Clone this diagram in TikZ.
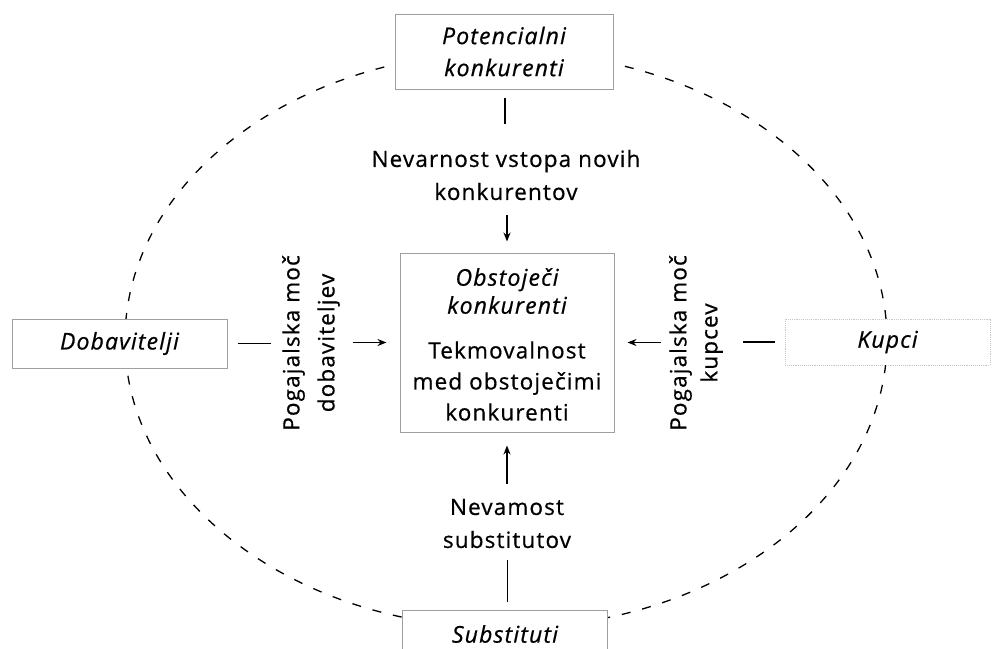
\documentclass[tikz,border=0pt]{standalone}
\usepackage{fontspec}
\setmainfont{Open Sans}[LetterSpace=5, FakeBold=0.6]
\usetikzlibrary{arrows.meta,calc}
\begin{document}
\begin{tikzpicture}[x=1pt,y=-1pt,
  txt/.style={inner sep=0pt, align=center, font=\fontsize{22.5}{33}\selectfont},
  itxt/.style={inner sep=0pt, align=center, font=\fontsize{23}{32}\selectfont\itshape},
  box/.style={draw=gray!75, line width=1pt, fill=white, inner sep=0pt},
  faintbox/.style={draw=gray!45, line width=0.9pt, densely dotted, fill=white, inner sep=0pt},
  conn/.style={line width=1.8pt},
  arr/.style={line width=1.8pt, -{Stealth[length=9pt,width=7pt]}},
  ring/.style={line width=1.3pt, dash pattern=on 9pt off 12pt}
]
\useasboundingbox (0,0) rectangle (996,648);
\fill[white] (0,0) rectangle (996,648);
% surrounding dashed ellipse
\draw[ring] (506,340) ellipse [x radius=381pt, y radius=288pt];
% boxes
\node[box, minimum width=218pt, minimum height=75pt] (pk) at (504,51.5) {};
\node[itxt] (pkt) at (pk) {Potencialni\\konkurenti};
\node[box, minimum width=214pt, minimum height=179pt] (ob) at (507,342.5) {};
\node[itxt, font=\fontsize{23}{28}\selectfont\itshape] (obt) at (507,291) {Obstoječi\\konkurenti};
\node[txt, font=\fontsize{22.5}{31}\selectfont] (tek) at (507,381) {Tekmovalnost\\med obstoječimi\\konkurenti};
\node[box, minimum width=215pt, minimum height=49pt] (dob) at (119.5,343.5) {};
\node[itxt] (dobt) at (dob) {Dobavitelji};
\node[faintbox, minimum width=205pt, minimum height=46pt] (kup) at (887.5,342) {};
\node[itxt] (kupt) at (kup) {Kupci};
\node[box, minimum width=205pt, minimum height=80pt] (sub) at (504.5,650) {};
\node[itxt] (subt) at (505,634) {Substituti};
% force labels
\node[txt] (nv) at (506,175) {Nevarnost vstopa novih\\konkurentov};
\node[txt] (ns) at (507,523.5) {Nevamost\\substitutov};
\node[txt, rotate=90, font=\fontsize{22.5}{35}\selectfont] (pd) at (311,343) {Pogajalska moč\\dobaviteljev};
\node[txt, rotate=90, font=\fontsize{22.5}{31}\selectfont] (pkc) at (696,343) {Pogajalska moč\\kupcev};
% connectors
\draw[conn] ($(pk.south)+(1,8)$) -- ($(pk.south)+(1,34)$);
\draw[arr, shorten >=11pt] ($(ob.north)+(0,-38)$) -- (ob.north);
\draw[conn, shorten <=10pt] (dob.east) -- ++(43,0);
\draw[arr, shorten >=13pt] ($(ob.west)+(-47,0)$) -- (ob.west);
\draw[arr, shorten >=13pt] ($(ob.east)+(46,0)$) -- (ob.east);
\draw[conn, shorten <=10pt] (kup.west) -- ++(-42,0);
\draw[arr, shorten >=13pt] ($(ob.south)+(0,51)$) -- (ob.south);
\draw[conn] ($(sub.north)+(3,-8)$) -- ($(sub.north)+(3,-50)$);
\end{tikzpicture}
\end{document}
